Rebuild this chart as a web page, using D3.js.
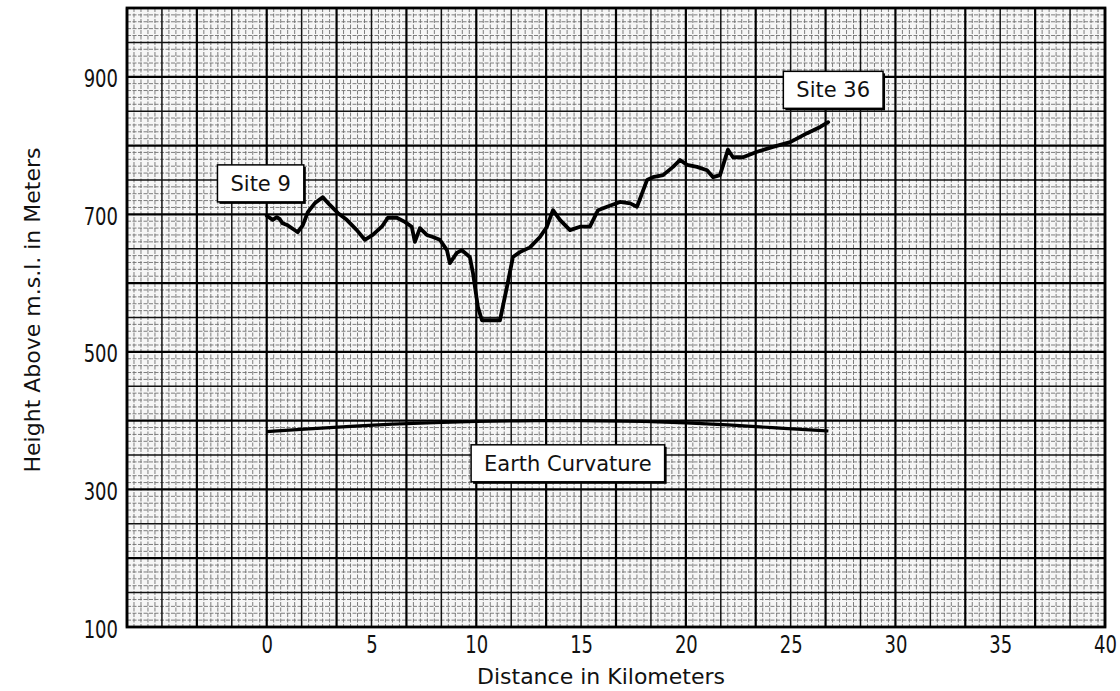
<!DOCTYPE html>
<html>
<head>
<meta charset="utf-8">
<script src="https://cdn.jsdelivr.net/npm/d3@7"></script>
<style>
  html, body { margin: 0; padding: 0; background: #ffffff; }
  svg { display: block; }
  .tick-label { font-family: "DejaVu Sans", sans-serif; font-size: 25px; fill: #111; }
  .axis-title { font-family: "DejaVu Sans", sans-serif; font-size: 22px; fill: #111; }
  .y-title { font-family: "DejaVu Sans", sans-serif; font-size: 22px; fill: #111; }
  .note { font-family: "DejaVu Sans", sans-serif; font-size: 21px; fill: #111; }
</style>
</head>
<body>
<svg id="chart" width="1120" height="691"></svg>
<script>
// ---- data ----
const profileKm = [0, 0.29, 0.48, 0.62, 0.76, 1.0, 1.24, 1.48, 1.72, 1.96, 2.29, 2.67, 3.0, 3.39, 3.82, 4.30, 4.68, 5.06, 5.49, 5.78, 6.21, 6.59, 6.92, 7.07, 7.31, 7.64, 7.93, 8.26, 8.60, 8.74, 9.07, 9.31, 9.69, 9.84, 10.08, 10.27, 11.13, 11.46, 11.75, 12.08, 12.56, 13.04, 13.37, 13.66, 13.99, 14.47, 14.95, 15.42, 15.81, 16.24, 16.86, 17.34, 17.67, 18.15, 18.43, 18.91, 19.39, 19.72, 20.06, 20.53, 21.01, 21.30, 21.63, 22.01, 22.25, 22.73, 23.40, 24.16, 24.98, 25.79, 26.41, 26.79];
const profileHeight = [698, 692, 696, 693, 687, 684, 679, 674, 684, 703, 716, 725, 714, 702, 692, 677, 663, 670, 682, 695, 695, 689, 682, 660, 680, 670, 667, 663, 648, 629, 644, 648, 638, 615, 565, 546, 546, 594, 638, 645, 652, 667, 682, 706, 692, 677, 682, 682, 706, 711, 718, 716, 711, 750, 754, 757, 769, 779, 772, 769, 764, 754, 757, 794, 783, 783, 791, 798, 805, 818, 827, 834];

const curvatureKm = [0, 2, 4, 6, 8, 10, 12, 14, 16, 18, 20, 22, 24, 26.8];
const curvatureHeight = [384, 388, 392, 395, 397, 399, 400, 400, 400, 399, 397, 394, 390, 385];

const xTicks = [0, 5, 10, 15, 20, 25, 30, 35, 40];
const yTicks = [100, 300, 500, 700, 900];

const noteTexts = ["Site 9", "Site 36", "Earth Curvature"];
const noteKm = [-0.29, 27.03, 14.37];
const noteHeight = [745, 881, 338];

// ---- layout ----
(function () {
const svg = d3.select("#chart");
const pLeft = 127, pRight = 1105, pTop = 8, pBottom = 627;
const x = d3.scaleLinear().domain([-20 / 3, 40]).range([pLeft, pRight]);
const y = d3.scaleLinear().domain([100, 1000]).range([pBottom, pTop]);
const narrow = 0.72;

// graph paper
const paper = svg.append("g");
paper.append("rect").attr("x", pLeft).attr("y", pTop)
  .attr("width", pRight - pLeft).attr("height", pBottom - pTop).attr("fill", "#f6f6f6");

const vLines = d3.range(0, 141).map(i => ({ v: -20 / 3 + i / 3, i }));
const hLines = d3.range(0, 91).map(i => ({ v: 100 + i * 10, i }));
function lineStyle(lv) {
  if (lv === 2) return { c: "#000", w: 2.2 };
  if (lv === 1) return { c: "#111", w: 1.5 };
  return { c: "#707070", w: 0.9 };
}
[0, 1, 2].forEach(level => {
  vLines.forEach(d => {
    const lv = d.i % 10 === 0 ? 2 : (d.i % 5 === 0 ? 1 : 0);
    if (lv !== level) return;
    const s = lineStyle(lv);
    paper.append("line").attr("x1", x(d.v)).attr("x2", x(d.v)).attr("y1", pTop).attr("y2", pBottom)
      .attr("stroke", s.c).attr("stroke-width", s.w)
      .attr("stroke-dasharray", lv === 0 ? "4,1.5" : null);
  });
  hLines.forEach(d => {
    const lv = d.i % 10 === 0 ? 2 : (d.i % 5 === 0 ? 1 : 0);
    if (lv !== level) return;
    const s = lineStyle(lv);
    paper.append("line").attr("y1", y(d.v)).attr("y2", y(d.v)).attr("x1", pLeft).attr("x2", pRight)
      .attr("stroke", s.c).attr("stroke-width", s.w)
      .attr("stroke-dasharray", lv === 0 ? "4,1.5" : null);
  });
});
paper.append("rect").attr("x", pLeft).attr("y", pTop)
  .attr("width", pRight - pLeft).attr("height", pBottom - pTop)
  .attr("fill", "none").attr("stroke", "#000").attr("stroke-width", 2.8);

// axes (labels only, via d3 axes)
const xAxis = svg.append("g").attr("transform", `translate(0,${pBottom})`)
  .call(d3.axisBottom(x).tickValues(xTicks).tickSize(0).tickPadding(5).tickFormat(d3.format("d")));
xAxis.select(".domain").remove();
xAxis.attr("font-family", null).attr("font-size", null);
xAxis.selectAll("text").attr("class", "tick-label").attr("dy", "0.85em")
  .attr("transform", `scale(${narrow},1)`);

const yAxis = svg.append("g").attr("transform", `translate(${pLeft},0)`)
  .call(d3.axisLeft(y).tickValues(yTicks).tickSize(0).tickFormat(d3.format("d")));
yAxis.select(".domain").remove();
yAxis.attr("font-family", null).attr("font-size", null);
yAxis.selectAll("text").attr("class", "tick-label").attr("x", -9 / narrow).attr("dy", "0.4em")
  .attr("transform", `scale(${narrow},1)`);

svg.append("text").attr("class", "axis-title").attr("x", 601).attr("y", 684)
  .attr("text-anchor", "middle").text("Distance in Kilometers");
svg.append("text").attr("class", "y-title")
  .attr("transform", "translate(40,310) rotate(-90)")
  .attr("text-anchor", "middle").text("Height Above m.s.l. in Meters");

// profile
const profile = profileKm.map((k, i) => [k, profileHeight[i]]);
const curvature = curvatureKm.map((k, i) => [k, curvatureHeight[i]]);
const lineGen = d3.line().x(d => x(d[0])).y(d => y(d[1]));
svg.append("path").datum(profile).attr("d", lineGen)
  .attr("fill", "none").attr("stroke", "#000").attr("stroke-width", 3.8)
  .attr("stroke-linejoin", "round").attr("stroke-linecap", "round");
svg.append("path").datum(curvature).attr("d", lineGen.curve(d3.curveBasis))
  .attr("fill", "none").attr("stroke", "#000").attr("stroke-width", 3.2);

// labelled boxes
noteTexts.forEach((t, i) => {
  const g = svg.append("g").attr("transform", `translate(${x(noteKm[i])},${y(noteHeight[i])})`);
  const txt = g.append("text").attr("class", "note").attr("text-anchor", "middle")
    .attr("dy", "0.36em").text(t);
  const bb = txt.node().getBBox();
  const padX = 13;
  const w = bb.width + 2 * padX, h = 37;
  g.insert("rect", "text").attr("x", -w / 2 + 2).attr("y", -h / 2 + 2).attr("width", w).attr("height", h)
    .attr("fill", "#000");
  g.insert("rect", "text").attr("x", -w / 2).attr("y", -h / 2).attr("width", w).attr("height", h)
    .attr("fill", "#fff").attr("stroke", "#000").attr("stroke-width", 1.5);
});
})();
</script>
</body>
</html>
